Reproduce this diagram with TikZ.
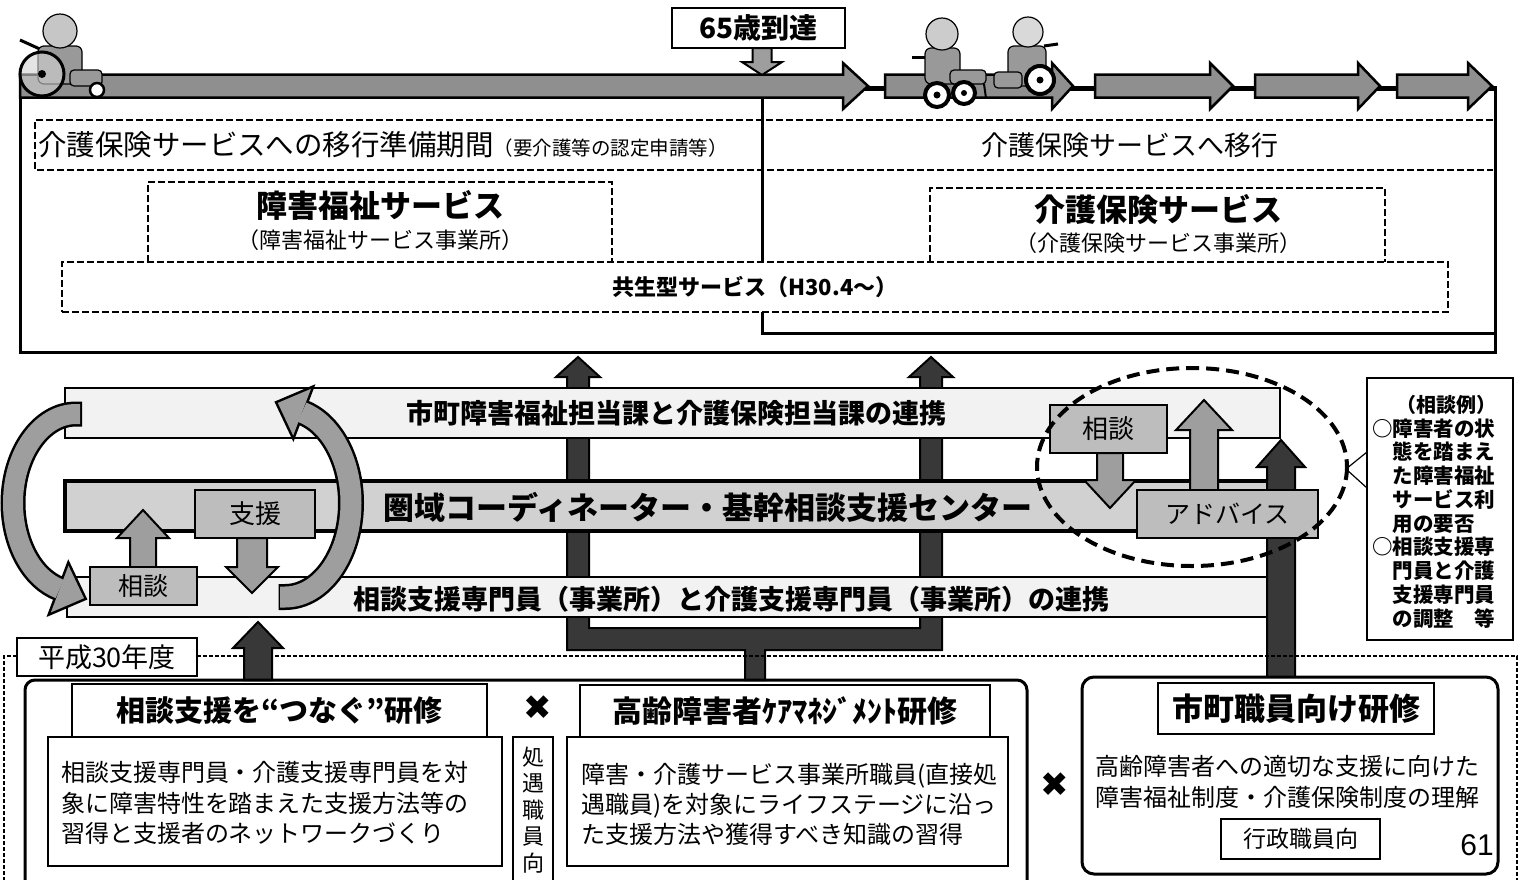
\documentclass[tikz,border=0pt]{standalone}
\usepackage{fontspec}
\setmainfont{Noto Sans CJK JP}
\newfontfamily\symfont{DejaVu Sans}
\newfontfamily\numfont{Liberation Sans}
\usetikzlibrary{calc}

\definecolor{arrowgray}{gray}{0.62}
\definecolor{linegray}{gray}{0.56}
\definecolor{boxgray}{gray}{0.74}
\definecolor{bandgray}{gray}{0.82}
\definecolor{palegray}{gray}{0.95}
\definecolor{darkfill}{gray}{0.22}
\definecolor{figgray}{gray}{0.6}

\newcommand{\fsz}[1]{\fontsize{#1}{#1}\selectfont}
\newcommand{\fszb}[2]{\fontsize{#1}{#2}\selectfont}
% box node from its two corners
\newcommand{\rectnode}[7]{\node[#1, minimum width={(#5)-(#3)}, minimum height={(#6)-(#4)}] (#2) at ({((#3)+(#5))/2},{((#4)+(#6))/2}) {#7};}
% vertical block arrow: style, x, tail y, tip y, shaft half, head half, head length (signed)
\newcommand{\varrow}[7]{\filldraw[#1] ({#2-#5},#3) -- ({#2-#5},{#4+(#7)}) -- ({#2-#6},{#4+(#7)}) -- (#2,#4) -- ({#2+#6},{#4+(#7)}) -- ({#2+#5},{#4+(#7)}) -- ({#2+#5},#3) -- cycle;}
% horizontal block arrow: style, tail x, tip x, y, shaft half, head half, head length
\newcommand{\harrow}[7]{\filldraw[#1] (#2,{#4-#5}) -- ({#3-#7},{#4-#5}) -- ({#3-#7},{#4-#6}) -- (#3,#4) -- ({#3-#7},{#4+#6}) -- ({#3-#7},{#4+#5}) -- (#2,{#4+#5}) -- cycle;}

\tikzset{
  every node/.style={inner sep=0pt, outer sep=0pt},
  framerule/.style={line width=3pt},
  dline/.style={draw=black, line width=1.6pt, dash pattern=on 7pt off 3pt},
  bdash/.style={draw=black, line width=1.4pt, dash pattern=on 4pt off 2pt},
  tlarrow/.style={draw=black, line width=2.5pt, fill=linegray, line join=miter},
  ga/.style={draw=black, line width=2pt, fill=arrowgray},
  da/.style={draw=black, line width=2pt, fill=darkfill},
  plainbox/.style={draw=black, line width=2pt, fill=white},
  thinbox/.style={draw=black, line width=1.5pt, fill=white},
  greybox/.style={draw=black, line width=2pt, fill=boxgray},
  palebox/.style={draw=black, line width=2pt, fill=palegray},
  bandbox/.style={draw=black, line width=4pt, fill=bandgray},
  outerbox/.style={draw=black, line width=3pt, fill=white},
  figline/.style={draw=black, line width=1.2pt},
  wheel/.style={draw=black, line width=4pt, fill=white},
}

\begin{document}
\begin{tikzpicture}[x=1pt,y=-1pt]
\useasboundingbox (0,0) rectangle (1527,879);
\clip (0,0) rectangle (1527,879);
\fill[white] (0,0) rectangle (1527,879);

% ================= upper panel: moving to long-term care at 65 =================
\draw[dline] (1493,120) -- (35,120) -- (35,170) -- (1493,170);
\draw[dline] (148,262) -- (148,182) -- (612,182) -- (612,262);
\draw[dline] (930,262) -- (930,188) -- (1385,188) -- (1385,262);

\draw[framerule] (20,97) -- (20,352) -- (1495,352) -- (1495,86);
\draw[framerule] (762,97) -- (762,333) -- (1495,333);

% the shared-service band lies over the divider
\rectnode{dline, fill=white}{kyosei}{62}{262}{1448}{312}{\bfseries\fsz{22}共生型サービス（H30.4～）}

\node[anchor=west] (prep) at (38,145) {\fsz{28.5}介護保険サービスへの移行準備期間{\fsz{19.5}（要介護等の認定申請等）}};
\node (shift) at (1130,145) {\fsz{27}介護保険サービスへ移行};
\node (shogai) at (380,205) {\bfseries\fsz{31}障害福祉サービス};
\node (shogaisub) at (380,240) {\fsz{22}（障害福祉サービス事業所）};
\node (hoken) at (1158,210) {\bfseries\fsz{31}介護保険サービス};
\node (hokensub) at (1158,243) {\fsz{22}（介護保険サービス事業所）};

% timeline
\draw[line width=5pt] (860,88) -- (1494,88);
\harrow{tlarrow}{20}{868}{86}{11.5}{23}{25}
\harrow{tlarrow}{885}{1073}{86}{11.5}{23}{21}
\harrow{tlarrow}{1095}{1233}{86}{11.5}{23}{23}
\harrow{tlarrow}{1255}{1380}{86}{11.5}{23}{22}
\harrow{tlarrow}{1397}{1492}{86}{11.5}{23}{24}

\rectnode{plainbox,line width=2.5pt}{age}{672}{8}{845}{48}{\bfseries\fsz{28}65歳到達}
\varrow{ga}{762}{48}{75}{9.5}{20}{-13}

% person in a wheelchair, left end
\draw[line width=3pt] (20,40) -- (42,50);
\filldraw[figline, fill=figgray, rounded corners=6pt] (38,46) rectangle (82,84);
\filldraw[figline, fill=figgray, rounded corners=4pt] (70,70) rectangle (102,86);
\filldraw[figline, fill=gray!45] (60,31) circle[radius=17];
\draw[line width=3pt, fill=gray!35, fill opacity=0.6] (42,74) circle[radius=22];
\fill (42,74) circle[radius=4];
\draw[line width=2.5pt, fill=white] (97,90) circle[radius=7];

% man in a wheelchair
\draw[line width=3pt] (912,57) -- (930,57);
\filldraw[figline, fill=figgray, rounded corners=6pt] (925,48) rectangle (960,84);
\filldraw[figline, fill=figgray, rounded corners=4pt] (950,70) rectangle (986,84);
\draw[line width=2pt] (984,84) -- (986,98);
\filldraw[figline, fill=gray!40] (942,34) circle[radius=16];
\draw[wheel] (937,95) circle[radius=12];
\fill (937,95) circle[radius=3.5];
\draw[wheel] (964,93) circle[radius=11];
\fill (964,93) circle[radius=3];

% woman in a wheelchair
\draw[line width=3pt] (1044,46) -- (1058,44);
\filldraw[figline, fill=figgray, rounded corners=6pt] (1008,46) rectangle (1046,86);
\filldraw[figline, fill=figgray, rounded corners=4pt] (994,72) rectangle (1022,88);
\filldraw[figline, fill=gray!30] (1028,32) circle[radius=15];
\draw[wheel] (1040,80) circle[radius=14];
\fill (1040,80) circle[radius=3.5];

% ================= middle: cooperation layers =================
% links from the bottom training to the upper panel
\filldraw[da] (567,650) -- (567,377) -- (556,377) -- (578,357) -- (600,377) -- (589,377) -- (589,628)
  -- (920,628) -- (920,377) -- (909,377) -- (931,357) -- (953,377) -- (942,377) -- (942,650)
  -- (765,650) -- (765,680) -- (745,680) -- (745,650) -- cycle;

\rectnode{palebox}{shicho}{65}{388}{1280}{438}{}
\node (shichot) at (676,413) {\bfseries\fsz{27}市町障害福祉担当課と介護保険担当課の連携};
\rectnode{bandbox}{ken}{65}{481}{1280}{531}{}
\node (kent) at (708,507) {\bfseries\fsz{31}圏域コーディネーター・基幹相談支援センター};
\rectnode{palebox}{sodan}{67}{577}{1280}{617}{}
\node (sodant) at (731,599) {\bfseries\fsz{27}相談支援専門員（事業所）と介護支援専門員（事業所）の連携};

\varrow{da}{1281}{678}{440}{14}{24}{27}

\varrow{ga}{143}{567}{510}{13}{26}{28}
\varrow{ga}{252}{538}{593}{15}{26}{-26}
\varrow{ga}{1110}{453}{508}{13}{26}{-28}
\varrow{ga}{1204}{490}{400}{14}{28}{30}

\rectnode{greybox}{shien}{195}{490}{315}{538}{\fsz{26}支援}
\rectnode{greybox}{sodanL}{90}{567}{197}{605}{\fsz{25}相談}
\rectnode{greybox}{sodanR}{1050}{405}{1167}{453}{\fsz{26}相談}
\rectnode{greybox}{advice}{1137}{490}{1318}{538}{\fsz{25}アドバイス}

% loop arrows on the left
\draw[line width=25pt] (82,414) -- (76,414) arc[start angle=270, end angle=105, x radius=63, y radius=89];
\filldraw[black, line width=5pt, line join=miter] (68.5,565.6) -- (84,598.2) -- (50.9,612.4) -- cycle;
\draw[line width=20pt, arrowgray] (80,414) -- (76,414) arc[start angle=270, end angle=105, x radius=63, y radius=89];
\fill[arrowgray] (68.5,565.6) -- (84,598.2) -- (50.9,612.4) -- cycle;

\draw[line width=26pt] (278.5,597) -- (285,597) arc[start angle=90, end angle=-75, x radius=66, y radius=94];
\filldraw[black, line width=5pt, line join=miter] (311,388.8) -- (277.8,402.9) -- (293.2,435.6) -- cycle;
\draw[line width=21pt, arrowgray] (280,597) -- (285,597) arc[start angle=90, end angle=-75, x radius=66, y radius=94];
\fill[arrowgray] (311,388.8) -- (277.8,402.9) -- (293.2,435.6) -- cycle;

% consultation ring and its example note
\draw[line width=4pt, dash pattern=on 13pt off 7pt] (1192,467) ellipse[x radius=155, y radius=99];
\rectnode{plainbox}{callout}{1367}{378}{1513}{640}{}
\draw[line width=1.2pt] (1367,452) -- (1346,469) -- (1367,488);
\node[font=\bfseries\fsz{20}] (clhead) at (1446,405) {（相談例）};
\foreach \cltext [count=\i from 0] in {○障害者の状,　態を踏まえ,　た障害福祉,　サービス利,　用の要否,○相談支援専,　門員と介護,　支援専門員,　の調整　等}
  \node[anchor=base west, font=\bfseries\fsz{20.5}] (cl\i) at (1372,{436+23.75*\i}) {\cltext};

% ================= bottom: trainings for fiscal 2018 =================
\draw[bdash] (17,656) -- (4,656) -- (4,890);
\draw[bdash] (197,656) -- (1517,656) -- (1517,890);
\rectnode{thinbox}{heisei}{17}{638}{197}{676}{\fsz{27}平成30年度}

\varrow{da}{258}{680}{622}{14}{25}{26}

\draw[line width=3pt, rounded corners=10pt] (25,900) -- (25,680) -- (1027,680) -- (1027,900);
\rectnode{outerbox, rounded corners=12pt}{box3}{1082}{677}{1498}{874}{}

\rectnode{plainbox}{t1}{72}{684}{487}{737}{\bfseries\fsz{29}相談支援を“つなぐ”研修}
\rectnode{plainbox}{d1}{48}{737}{502}{866}{}
\node[align=left, font=\fszb{24}{30.5}] (d1t) at (265,803) {相談支援専門員・介護支援専門員を対\\象に障害特性を踏まえた支援方法等の\\習得と支援者のネットワークづくり};

\node[font=\symfont\bfseries\fsz{34}] (x1) at (538,708) {✖};
\rectnode{plainbox}{side}{513}{737}{553}{895}{}
\node[align=center, font=\fszb{22}{26.5}, anchor=north] (sidet) at (533,747) {処\\遇\\職\\員\\向};

\rectnode{plainbox}{t2}{580}{685}{990}{737}{\bfseries\fsz{30}高齢障害者ｹｱﾏﾈｼﾞﾒﾝﾄ研修}
\rectnode{plainbox}{d2}{567}{737}{1008}{866}{}
\node[align=left, anchor=west, font=\fszb{24}{30}] (d2t) at (581,804) {障害・介護サービス事業所職員(直接処\\遇職員)を対象にライフステージに沿っ\\た支援方法や獲得すべき知識の習得};

\node[font=\symfont\bfseries\fsz{34}] (x2) at (1055,785) {✖};

\rectnode{plainbox}{t3}{1158}{683}{1434}{734}{\bfseries\fsz{31}市町職員向け研修}
\node[align=center, font=\fszb{24}{31}] (d3t) at (1287,782) {高齢障害者への適切な支援に向けた\\障害福祉制度・介護保険制度の理解};
\rectnode{thinbox}{gyosei}{1221}{819}{1380}{859}{\fsz{23}行政職員向}
\node (page) at (1477,845) {\numfont\fsz{30}61};

\end{tikzpicture}
\end{document}
